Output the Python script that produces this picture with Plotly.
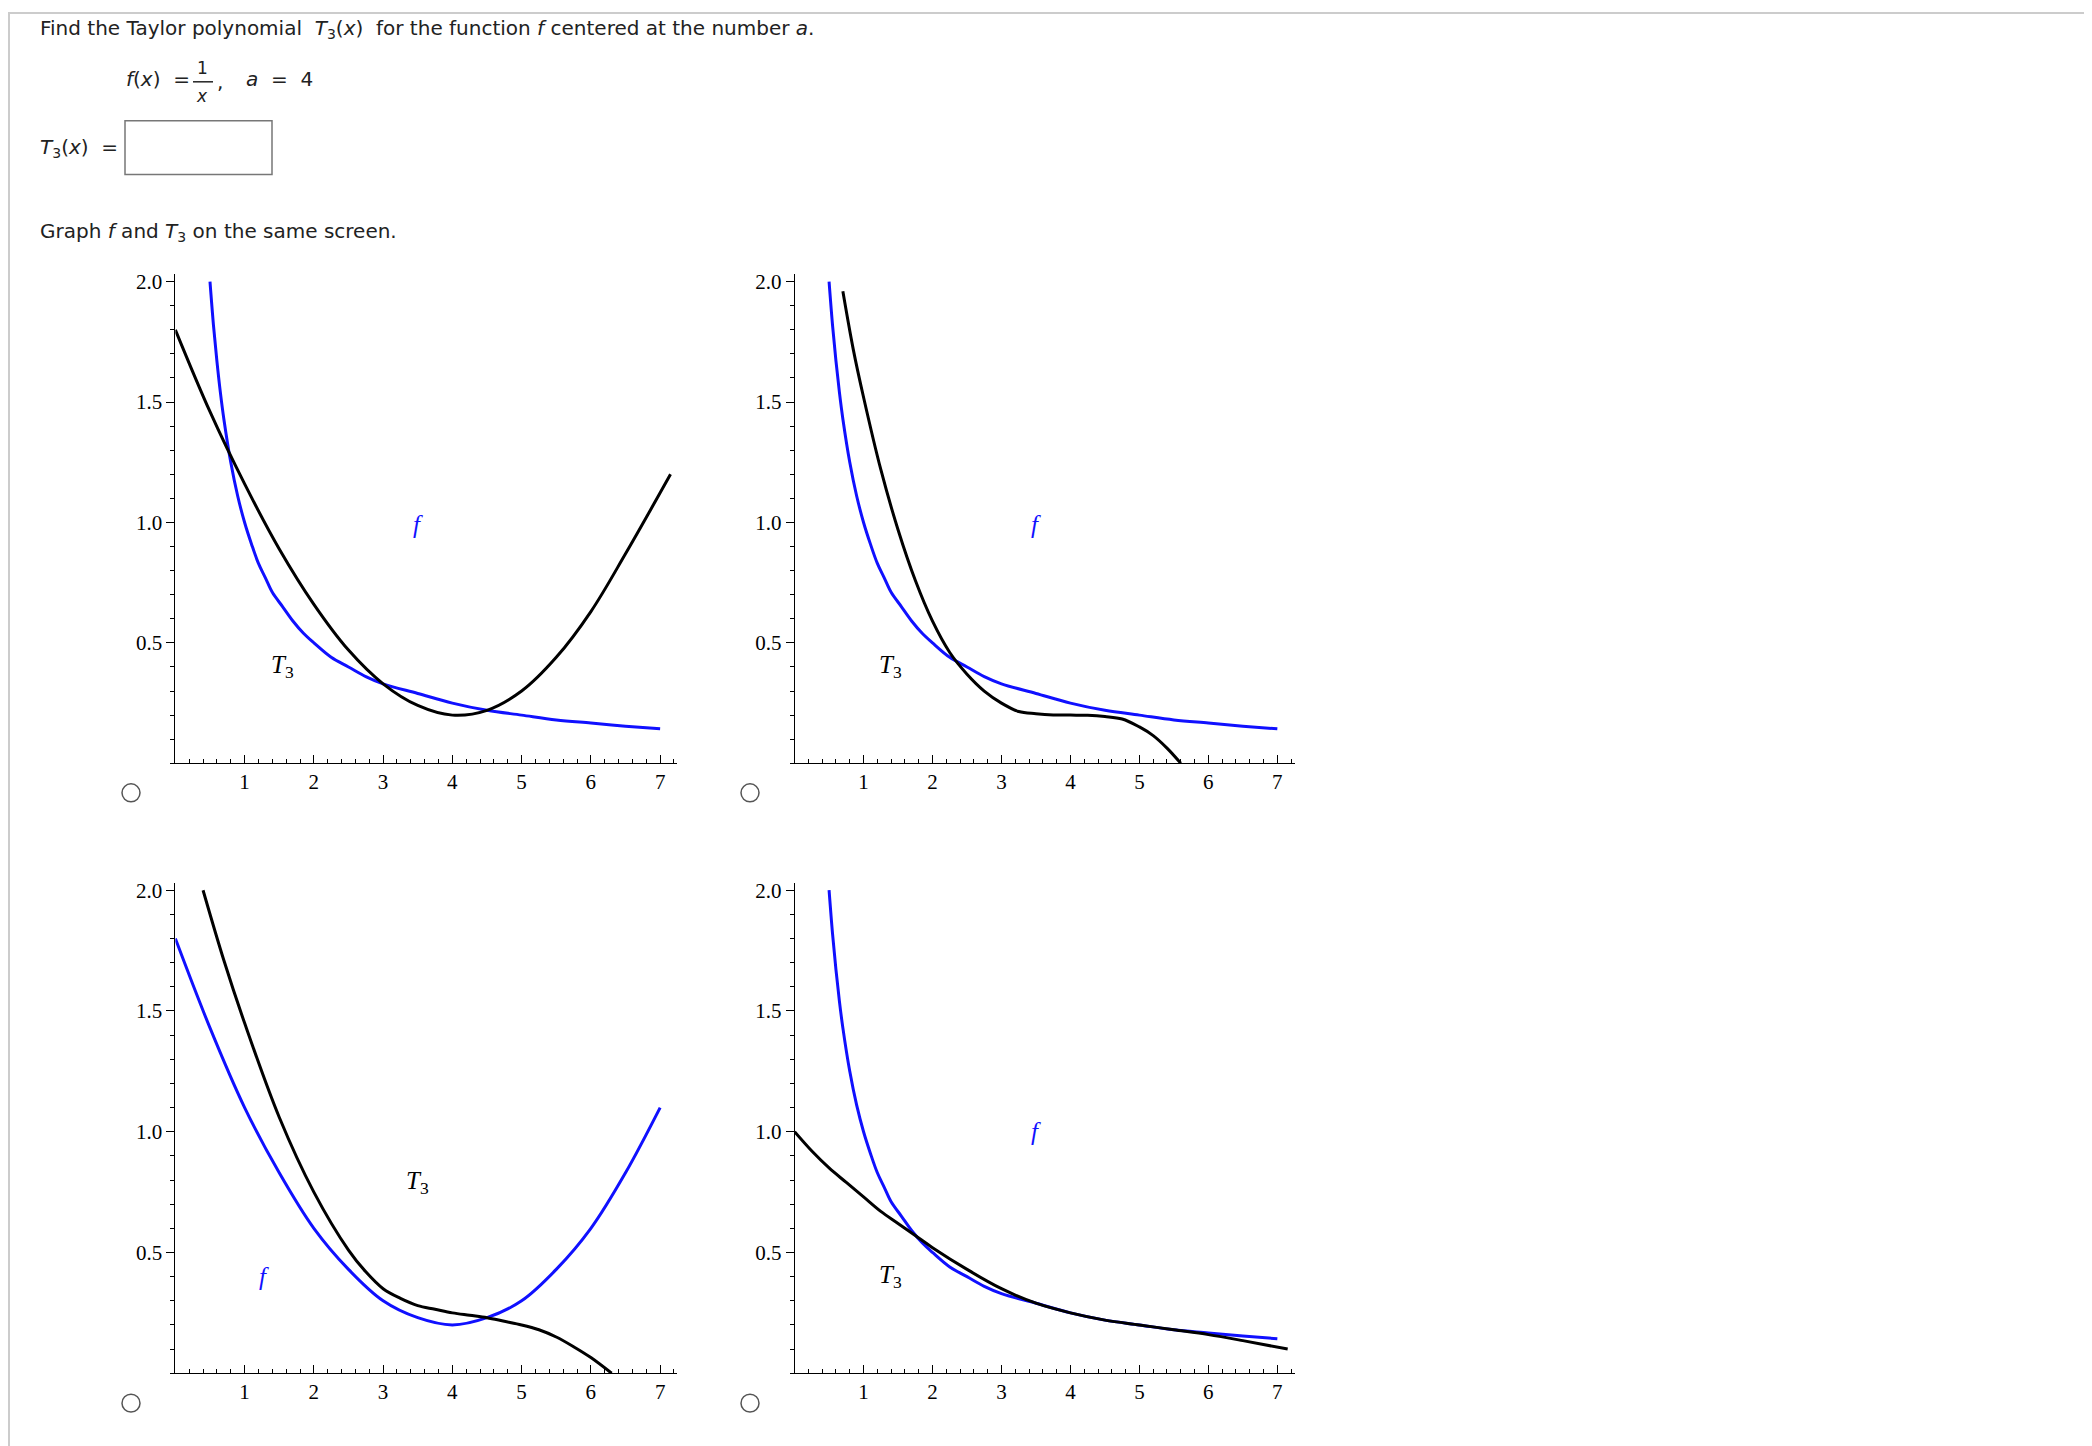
import plotly.graph_objects as go

W, H = 2092, 1446

p1_f_x = [0.5, 0.55, 0.6, 0.65, 0.7, 0.8, 0.9, 1.0, 1.1, 1.2, 1.3, 1.4, 1.55, 1.7, 1.85, 2.0, 2.25, 2.5, 2.75, 3.0, 3.5, 4.0, 4.5, 5.0, 5.5, 6.0, 6.5, 7.0]
p1_f_y = [2.0, 1.82, 1.67, 1.54, 1.43, 1.25, 1.11, 1.0, 0.91, 0.83, 0.77, 0.71, 0.65, 0.59, 0.54, 0.5, 0.44, 0.4, 0.36, 0.33, 0.29, 0.25, 0.22, 0.2, 0.18, 0.167, 0.154, 0.143]
p1_t_x = [0.0, 0.5, 1.0, 1.5, 2.0, 2.5, 3.0, 3.5, 4.0, 4.5, 5.0, 5.5, 6.0, 6.5, 7.15]
p1_t_y = [1.8, 1.46, 1.16, 0.89, 0.66, 0.47, 0.33, 0.24, 0.2, 0.22, 0.3, 0.44, 0.63, 0.87, 1.2]

p2_f_x = p1_f_x
p2_f_y = p1_f_y
p2_t_x = [0.7, 0.85, 1.0, 1.25, 1.5, 1.75, 2.0, 2.25, 2.5, 2.75, 3.0, 3.25, 3.5, 3.75, 4.0, 4.25, 4.5, 4.75, 5.0, 5.2, 5.4, 5.6]
p2_t_y = [1.96, 1.72, 1.52, 1.22, 0.97, 0.76, 0.59, 0.46, 0.37, 0.3, 0.25, 0.215, 0.206, 0.201, 0.2, 0.199, 0.194, 0.184, 0.151, 0.115, 0.063, 0.0]

p3_f_x = [0.0, 0.5, 1.0, 1.5, 2.0, 2.5, 3.0, 3.5, 4.0, 4.5, 5.0, 5.5, 6.0, 6.5, 7.0]
p3_f_y = [1.8, 1.43, 1.1, 0.83, 0.6, 0.43, 0.3, 0.23, 0.2, 0.23, 0.3, 0.43, 0.6, 0.83, 1.1]
p3_t_x = [0.4, 0.7, 1.0, 1.5, 2.0, 2.5, 2.75, 3.0, 3.25, 3.5, 3.75, 4.0, 4.25, 4.5, 4.75, 5.0, 5.25, 5.5, 5.75, 6.0, 6.3]
p3_t_y = [2.0, 1.71, 1.45, 1.06, 0.75, 0.51, 0.42, 0.35, 0.31, 0.28, 0.265, 0.25, 0.24, 0.23, 0.215, 0.2, 0.18, 0.15, 0.11, 0.065, 0.0]

p4_f_x = p1_f_x
p4_f_y = p1_f_y
p4_t_x = [0.0, 0.25, 0.5, 0.75, 1.0, 1.25, 1.5, 1.75, 2.0, 2.5, 3.0, 3.5, 4.0, 4.5, 5.0, 5.5, 6.0, 6.5, 7.15]
p4_t_y = [1.0, 0.92, 0.85, 0.79, 0.73, 0.67, 0.62, 0.57, 0.52, 0.43, 0.35, 0.29, 0.25, 0.22, 0.2, 0.18, 0.16, 0.135, 0.1]

panels = [
    (p1_f_x, p1_f_y, p1_t_x, p1_t_y, (3.5, 0.99), (1.55, 0.40)),
    (p2_f_x, p2_f_y, p2_t_x, p2_t_y, (3.5, 0.99), (1.39, 0.40)),
    (p3_f_x, p3_f_y, p3_t_x, p3_t_y, (1.28, 0.40), (3.5, 0.79)),
    (p4_f_x, p4_f_y, p4_t_x, p4_t_y, (3.5, 1.0), (1.39, 0.40)),
]

xdoms = [(0.080, 0.320), (0.376, 0.615)]
ydoms = [(0.479, 0.818), (0.056, 0.396)]

fig = go.Figure()
serif = "Liberation Serif"
annotations = []
for i, (fx, fy, tx, ty, fpos, tpos) in enumerate(panels):
    n = i + 1
    xa = "x" if n == 1 else f"x{n}"
    ya = "y" if n == 1 else f"y{n}"
    fig.add_trace(go.Scatter(x=fx, y=fy, mode="lines",
                             line=dict(color="#1010ff", width=3, shape="spline", smoothing=1.0),
                             xaxis=xa, yaxis=ya, showlegend=False))
    fig.add_trace(go.Scatter(x=tx, y=ty, mode="lines",
                             line=dict(color="black", width=3, shape="spline", smoothing=1.0),
                             xaxis=xa, yaxis=ya, showlegend=False))
    xd = xdoms[i % 2]
    yd = ydoms[i // 2]
    common = dict(showgrid=False, zeroline=False, showline=True, linecolor="black", linewidth=1,
                  ticklen=8, tickcolor="black",
                  tickfont=dict(family=serif, size=21, color="black"))
    fig.layout[f"xaxis{'' if n == 1 else n}"] = dict(common, domain=list(xd), range=[0, 7.25],
        tickvals=[1, 2, 3, 4, 5, 6, 7], ticks="inside",
        minor=dict(ticks="inside", ticklen=4, tickcolor="black", dtick=0.2), anchor=ya)
    fig.layout[f"yaxis{'' if n == 1 else n}"] = dict(common, domain=list(yd), range=[0, 2.03],
        tickvals=[0.5, 1.0, 1.5, 2.0], tickformat=".1f", ticks="outside",
        minor=dict(ticks="outside", ticklen=4, tickcolor="black", dtick=0.1), anchor=xa)
    annotations.append(dict(x=fpos[0], y=fpos[1], xref=xa, yref=ya, text="<i>f</i>", showarrow=False,
                            font=dict(family=serif, size=25, color="#1010ff")))
    annotations.append(dict(x=tpos[0], y=tpos[1], xref=xa, yref=ya, text="<i>T</i><sub>3</sub>", showarrow=False,
                            font=dict(family=serif, size=25, color="black")))

sans = "DejaVu Sans"
def txt(x, y, s, size=20, anchor="left"):
    annotations.append(dict(x=x / W, y=1 - y / H, xref="paper", yref="paper", text=s, showarrow=False,
                            xanchor=anchor, yanchor="middle", font=dict(family=sans, size=size, color="#222")))

txt(30, 17, "Find the Taylor polynomial  <i>T</i><sub>3</sub>(<i>x</i>)  for the function <i>f</i> centered at the number <i>a</i>.")
txt(116, 67, "<i>f</i>(<i>x</i>)  =")
txt(194, 56, "1", 17, "center")
txt(194, 84, "<i>x</i>", 17, "center")
txt(207, 70, ",")
txt(236, 67, "<i>a</i>  =  4")
txt(30, 136, "<i>T</i><sub>3</sub>(<i>x</i>)  =")
txt(30, 221, "Graph <i>f</i> and <i>T</i><sub>3</sub> on the same screen.")

def P(x, y):
    return x / W, 1 - y / H

shapes = []
x0, y0 = P(185, 70); x1, y1 = P(205, 70)
shapes.append(dict(type="line", xref="paper", yref="paper", x0=x0, y0=y0, x1=x1, y1=y1, line=dict(color="#222", width=1.5)))
x0, y0 = P(117, 109); x1, y1 = P(264, 163)
shapes.append(dict(type="rect", xref="paper", yref="paper", x0=x0, y0=y0, x1=x1, y1=y1, line=dict(color="#777", width=1.5)))
for cx, cy in [(123, 783), (742, 783), (123, 1395), (742, 1395)]:
    x0, y0 = P(cx - 9, cy - 9); x1, y1 = P(cx + 9, cy + 9)
    shapes.append(dict(type="circle", xref="paper", yref="paper", x0=x0, y0=y1, x1=x1, y1=y0, line=dict(color="#555", width=1.5)))
x0, y0 = P(1, 1); x1, y1 = P(2077, 1442)
shapes.append(dict(type="rect", xref="paper", yref="paper", x0=x0, y0=y1, x1=x1, y1=y0, line=dict(color="#ccc", width=2)))

fig.update_layout(width=W, height=H, margin=dict(l=0, r=0, t=0, b=0), plot_bgcolor="white",
                  paper_bgcolor="white", annotations=annotations, shapes=shapes)

fig.write_html("out.html")
